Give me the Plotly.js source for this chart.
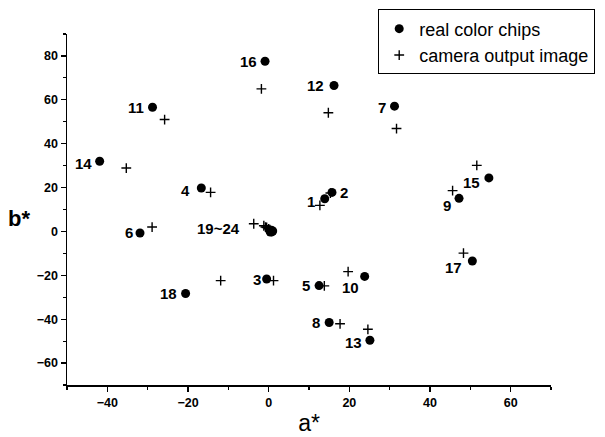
<!DOCTYPE html>
<html>
<head>
<meta charset="utf-8">
<script src="https://cdn.plot.ly/plotly-3.0.1.min.js"></script>
<style>html,body{margin:0;padding:0;background:#fff}#chart{width:605px;height:437px}</style>
</head>
<body>
<div id="chart"></div>
<script>
// Real color chips (a*, b*) — chips 1..18, then 19..24 (grey patches)
const chipA = [13.9, 15.7, -0.5, -16.7, 12.5, -31.9, 31.2, 15.0, 47.2, 23.8, -28.8, 16.2, 25.1, -41.9, 54.6, -0.9, 50.5, -20.6, 0.5, 0.8, 0.2, 1.0, 0.4, 0.7];
const chipB = [14.9, 17.8, -21.7, 19.8, -24.7, -0.7, 57.1, -41.5, 15.1, -20.5, 56.6, 66.5, -49.6, 32.0, 24.4, 77.6, -13.5, -28.3, 0.3, -0.2, 0.6, 0.2, -0.3, 0.5];
// Camera output image (a*, b*)
const camA = [12.7, 15.3, 1.2, -14.4, 13.8, -28.9, 31.7, 17.7, 45.6, 19.7, -25.8, 14.8, 24.6, -35.3, 51.6, -1.8, 48.3, -11.9, -3.7, -1.2, -0.5, 0.0, -0.8, 0.3];
const camB = [11.9, 17.5, -22.4, 17.8, -24.8, 2.0, 46.9, -42.1, 18.6, -18.3, 51.0, 54.1, -44.6, 28.9, 30.1, 65.0, -9.9, -22.4, 3.5, 2.6, 1.8, 1.2, 2.0, 0.8];
// Point labels (index into chip arrays)
const pointLabels = ['1','2','3','4','5','6','7','8','9','10','11','12','13','14','15','16','17','18','19~24'];
const seriesNames = ['real color chips', 'camera output image'];
const xTitle = 'a*';
const yTitle = 'b*';

// label pixel offsets from the dot (layout only; positive dy = downward)
const labelDx = [-14, 12, -10, -16, -13, -11, -13, -13, -12, -14, -17, -19, -16, -16, -17, -17, -19, -17, -52];
const labelDy = [3, 0, 0, 2, 0, 0, 1, 0, 7, 11, 0, 0, 2, 2, 5, 0, 6, 0, -2];

const labelFont = {family: 'Liberation Sans, Arial, sans-serif', size: 15, color: '#000', weight: 'bold'};

const annotations = pointLabels.map((t, i) => ({
  x: chipA[i], y: chipB[i], xref: 'x', yref: 'y', text: t, showarrow: false,
  xshift: labelDx[i], yshift: -labelDy[i], font: labelFont
}));
annotations.push({
  xref: 'paper', yref: 'paper', x: -0.1, y: 0.475, text: yTitle, showarrow: false,
  xanchor: 'center', yanchor: 'middle',
  font: {family: 'Liberation Sans, Arial, sans-serif', size: 22, color: '#000', weight: 'bold'}
});

const traces = [
  {x: camA, y: camB, type: 'scatter', mode: 'markers', name: seriesNames[1],
   marker: {symbol: 'cross-thin-open', size: 7, color: '#000', line: {color: '#000', width: 1.4}}},
  {x: chipA, y: chipB, type: 'scatter', mode: 'markers', name: seriesNames[0],
   marker: {symbol: 'circle', size: 9, color: '#000'}}
];

const tickFont = {family: 'Liberation Sans, Arial, sans-serif', size: 12.5, color: '#000', weight: 'bold'};

const layout = {
  width: 605, height: 437,
  margin: {l: 67, r: 54, t: 34, b: 52, autoexpand: false},
  paper_bgcolor: '#fff', plot_bgcolor: '#fff',
  showlegend: true,
  legend: {x: 0.643, y: 1.07, xanchor: 'left', yanchor: 'top', traceorder: 'reversed',
    bordercolor: '#000', borderwidth: 1, bgcolor: '#fff',
    font: {family: 'Liberation Sans, Arial, sans-serif', size: 18, color: '#000'},
    tracegroupgap: 0},
  xaxis: {range: [-50, 70], dtick: 20, tick0: 0, showgrid: false, zeroline: false,
    showline: true, linecolor: '#000', linewidth: 1.5, ticks: 'outside', ticklen: 5, tickwidth: 1.2, tickcolor: '#000',
    minor: {dtick: 10, ticks: 'outside', ticklen: 3, tickcolor: '#000', showgrid: false},
    tickfont: tickFont,
    title: {text: xTitle, standoff: 6, font: {family: 'Liberation Sans, Arial, sans-serif', size: 23, color: '#000'}}},
  yaxis: {range: [-70, 90], dtick: 20, tick0: 0, showgrid: false, zeroline: false,
    showline: true, linecolor: '#000', linewidth: 1.5, ticks: 'outside', ticklen: 5, tickwidth: 1.2, tickcolor: '#000',
    minor: {dtick: 10, ticks: 'outside', ticklen: 3, tickcolor: '#000', showgrid: false},
    tickfont: tickFont},
  annotations: annotations
};

Plotly.newPlot('chart', traces, layout, {displayModeBar: false, staticPlot: true});
</script>
</body>
</html>
